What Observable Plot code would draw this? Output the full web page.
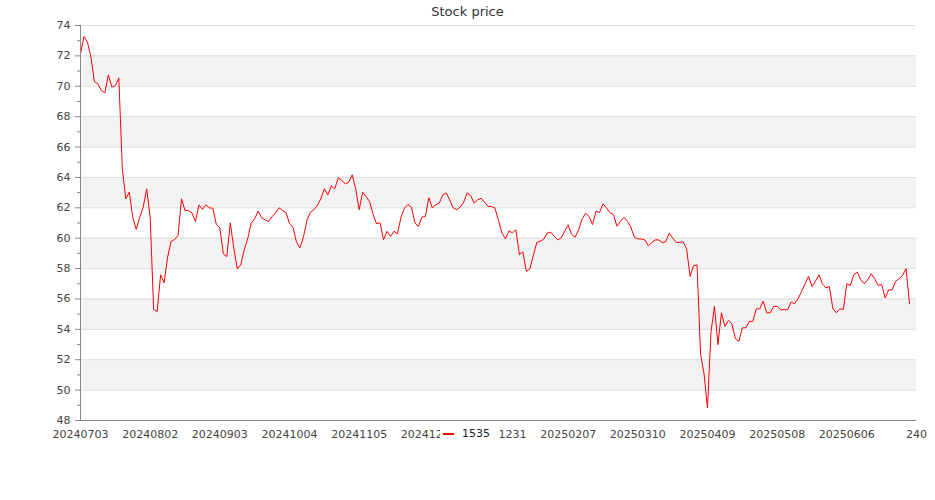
<!DOCTYPE html>
<html>
<head>
<meta charset="utf-8">
<script src="https://cdn.jsdelivr.net/npm/d3@7"></script>
<script src="https://cdn.jsdelivr.net/npm/@observablehq/plot@0.6"></script>
<style>
  body { margin: 0; background: #fff; font-family: "DejaVu Sans", sans-serif; }
  #wrap { position: relative; width: 935px; height: 500px; }
  #title { position: absolute; left: 0; top: 5px; width: 935px; text-align: center; font-size: 13px; line-height: 14px; color: #333; }
  #legend { position: absolute; left: 440px; top: 426px; width: 58px; height: 17px; background: #fff; }
  #legend .sw { position: absolute; left: 3px; top: 7px; width: 11px; height: 2px; background: #ff0000; }
  #legend .lb { position: absolute; left: 22px; top: 1px; font-size: 11px; line-height: 13px; color: #222; }
</style>
</head>
<body>
<div id="wrap">
  <div id="chart"></div>
  <div id="title">Stock price</div>
  <div id="legend"><div class="sw"></div><div class="lb">1535</div></div>
</div>
<script>
const seriesName = "1535";
const prices = [
  72.13, 73.28, 72.90, 71.92, 70.31, 70.16, 69.72, 69.57, 70.75, 69.94,
  70.05, 70.55, 64.60, 62.59, 63.03, 61.38, 60.57, 61.38, 62.04, 63.25,
  61.38, 55.30, 55.17, 57.59, 57.06, 58.75, 59.78, 59.91, 60.18, 62.59,
  61.82, 61.82, 61.67, 61.10, 62.19, 61.89, 62.19, 62.00, 61.97, 60.90,
  60.68, 58.97, 58.79, 61.01, 59.34, 57.98, 58.24, 59.23, 59.96, 60.99,
  61.27, 61.78, 61.34, 61.21, 61.10, 61.43, 61.65, 62.00, 61.82, 61.69,
  60.95, 60.73, 59.74, 59.37, 60.07, 61.17, 61.71, 61.87, 62.15, 62.59,
  63.25, 62.85, 63.45, 63.25, 63.97, 63.80, 63.58, 63.69, 64.17, 63.25,
  61.87, 63.03, 62.74, 62.41, 61.56, 60.95, 61.01, 59.89, 60.46, 60.11,
  60.46, 60.29, 61.38, 61.98, 62.22, 62.04, 61.01, 60.77, 61.38, 61.43,
  62.66, 62.00, 62.20, 62.31, 62.85, 62.98, 62.52, 62.00, 61.87, 62.04,
  62.37, 62.98, 62.81, 62.31, 62.52, 62.63, 62.37, 62.09, 62.09, 61.97,
  61.16, 60.33, 59.96, 60.48, 60.35, 60.55, 58.92, 59.10, 57.81, 57.98,
  58.86, 59.72, 59.80, 59.94, 60.33, 60.40, 60.13, 59.89, 60.02, 60.46,
  60.88, 60.24, 60.07, 60.55, 61.27, 61.65, 61.43, 60.90, 61.78, 61.69,
  62.26, 62.00, 61.67, 61.56, 60.79, 61.10, 61.38, 61.12, 60.72, 60.07,
  59.96, 59.94, 59.89, 59.50, 59.72, 59.89, 59.89, 59.70, 59.76, 60.33,
  60.02, 59.72, 59.72, 59.76, 59.30, 57.48, 58.18, 58.24, 52.39, 51.08,
  48.82, 53.82, 55.51, 52.99, 55.09, 54.19, 54.59, 54.37, 53.38, 53.21,
  54.10, 54.10, 54.52, 54.52, 55.35, 55.35, 55.86, 55.09, 55.09, 55.51,
  55.51, 55.29, 55.29, 55.29, 55.79, 55.68, 56.01, 56.49, 57.00, 57.48,
  56.82, 57.17, 57.59, 57.00, 56.73, 56.82, 55.35, 55.09, 55.35, 55.31,
  57.00, 56.89, 57.59, 57.77, 57.26, 57.00, 57.26, 57.66, 57.33, 56.89,
  56.95, 56.07, 56.60, 56.60, 57.17, 57.33, 57.55, 57.99, 55.68
];
const categoryCount = 241;
const labelEvery = 20;
const tickLabels = [
  "20240703", "20240802", "20240903", "20241004", "20241105", "20241204",
  "20241231", "20250207", "20250310", "20250409", "20250508", "20250606", "240"
];
const yMajor = [48, 50, 52, 54, 56, 58, 60, 62, 64, 66, 68, 70, 72, 74];
const yMinor = [49, 51, 53, 55, 57, 59, 61, 63, 65, 67, 69, 71, 73];
const bandStarts = [50, 54, 58, 62, 66, 70];

const tickIdx = tickLabels.map((d, i) => i * labelEvery);

const chart = Plot.plot({
  width: 935,
  height: 500,
  marginTop: 25,
  marginBottom: 80,
  marginLeft: 80,
  marginRight: 19,
  style: { fontFamily: "DejaVu Sans, sans-serif", fontSize: "11px", background: "#fff" },
  x: { type: "linear", domain: [0, categoryCount - 1] },
  y: { domain: [48, 74] },
  marks: [
    Plot.rect(bandStarts, { y1: d => d, y2: d => d + 2, fill: "#f3f3f3" }),
    Plot.ruleY(yMajor, { stroke: "#dedede", strokeWidth: 1 }),
    Plot.lineY(prices, { x: (d, i) => i, y: d => d, stroke: "#ff0000", strokeWidth: 1 }),
    Plot.axisY({ ticks: yMajor, tickSize: 5, tickPadding: 5, stroke: "#888", fill: "#444", fontSize: 11, label: null }),
    Plot.axisY({ ticks: yMinor, tickSize: 3, stroke: "#888", fill: "none", label: null }),
    Plot.ruleX([0], { stroke: "#888" }),
    Plot.ruleY([48], { stroke: "#888" }),
    Plot.axisX({ ticks: tickIdx, tickFormat: d => tickLabels[Math.round(d / labelEvery)], tickSize: 0, tickPadding: 10, fill: "#444", fontSize: 11, label: null })
  ]
});
document.getElementById("chart").appendChild(chart);
</script>
</body>
</html>
